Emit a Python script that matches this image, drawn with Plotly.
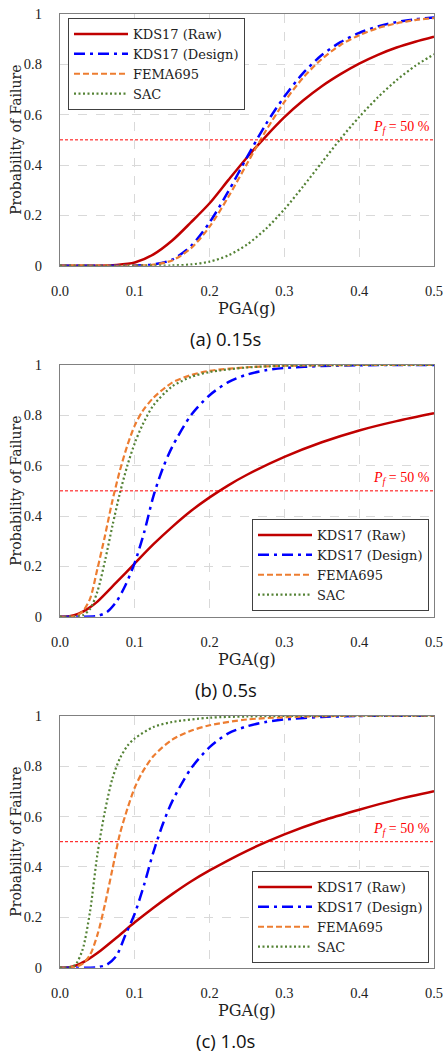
import plotly.graph_objects as go

W, H = 443, 1054

# ---------------- data ----------------
# Panel (a) 0.15s
a_raw_x = [0.0, 0.05, 0.075, 0.1, 0.125, 0.15, 0.175, 0.2, 0.225, 0.25, 0.275, 0.3, 0.325, 0.35, 0.375, 0.4, 0.425, 0.45, 0.475, 0.5]
a_raw_y = [0.0, 0.0001, 0.003, 0.013, 0.045, 0.10, 0.172, 0.248, 0.34, 0.43, 0.513, 0.59, 0.656, 0.713, 0.761, 0.803, 0.838, 0.867, 0.89, 0.91]
a_des_x = [0.0, 0.05, 0.1, 0.125, 0.15, 0.175, 0.2, 0.225, 0.25, 0.275, 0.3, 0.325, 0.35, 0.375, 0.4, 0.425, 0.45, 0.475, 0.5]
a_des_y = [0.0, 0.0, 0.0004, 0.005, 0.024, 0.078, 0.172, 0.295, 0.431, 0.561, 0.672, 0.765, 0.837, 0.888, 0.925, 0.951, 0.968, 0.979, 0.986]
a_fema_x = a_des_x
a_fema_y = [0.0, 0.0, 0.0003, 0.004, 0.021, 0.069, 0.155, 0.273, 0.405, 0.535, 0.651, 0.747, 0.821, 0.877, 0.916, 0.944, 0.963, 0.976, 0.984]
a_sac_x = [0.0, 0.1, 0.15, 0.175, 0.2, 0.225, 0.25, 0.275, 0.3, 0.325, 0.35, 0.375, 0.4, 0.425, 0.45, 0.475, 0.5]
a_sac_y = [0.0, 0.0, 0.001, 0.005, 0.016, 0.041, 0.084, 0.146, 0.224, 0.315, 0.41, 0.504, 0.591, 0.669, 0.737, 0.794, 0.84]

# Panel (b) 0.5s
b_raw_x = [0.0, 0.0125, 0.025, 0.0375, 0.05, 0.075, 0.1, 0.125, 0.15, 0.175, 0.2, 0.225, 0.25, 0.3, 0.35, 0.4, 0.45, 0.5]
b_raw_y = [0.0, 0.002, 0.012, 0.032, 0.06, 0.135, 0.212, 0.288, 0.357, 0.42, 0.474, 0.522, 0.564, 0.635, 0.693, 0.74, 0.777, 0.808]
b_des_x = [0.0, 0.025, 0.05, 0.0625, 0.075, 0.0875, 0.1, 0.1125, 0.125, 0.1375, 0.15, 0.175, 0.2, 0.225, 0.25, 0.275, 0.3, 0.35, 0.4, 0.45, 0.5]
b_des_y = [0.0, 0.0, 0.003, 0.018, 0.058, 0.125, 0.215, 0.335, 0.48, 0.59, 0.675, 0.80, 0.88, 0.932, 0.962, 0.979, 0.988, 0.996, 0.999, 1.0, 1.0]
b_fema_x = [0.0, 0.02, 0.03, 0.04, 0.05, 0.06, 0.07, 0.08, 0.09, 0.1, 0.11, 0.125, 0.15, 0.175, 0.2, 0.25, 0.3, 0.35, 0.4, 0.5]
b_fema_y = [0.0, 0.003, 0.02, 0.07, 0.19, 0.32, 0.46, 0.58, 0.68, 0.76, 0.815, 0.87, 0.93, 0.96, 0.977, 0.991, 0.997, 0.999, 1.0, 1.0]
b_sac_x = [0.0, 0.02, 0.03, 0.04, 0.05, 0.06, 0.07, 0.08, 0.09, 0.1, 0.11, 0.125, 0.15, 0.175, 0.2, 0.25, 0.3, 0.35, 0.4, 0.5]
b_sac_y = [0.0, 0.0, 0.005, 0.03, 0.10, 0.22, 0.36, 0.49, 0.60, 0.69, 0.76, 0.84, 0.915, 0.952, 0.972, 0.99, 0.997, 0.999, 1.0, 1.0]

# Panel (c) 1.0s
c_raw_x = [0.0, 0.0125, 0.025, 0.0375, 0.05, 0.075, 0.1, 0.125, 0.15, 0.175, 0.2, 0.25, 0.3, 0.35, 0.4, 0.45, 0.5]
c_raw_y = [0.0, 0.002, 0.013, 0.033, 0.058, 0.118, 0.18, 0.238, 0.292, 0.342, 0.386, 0.464, 0.529, 0.583, 0.627, 0.667, 0.70]
c_des_x = [0.0, 0.025, 0.05, 0.0625, 0.075, 0.0875, 0.1, 0.1125, 0.125, 0.1375, 0.15, 0.175, 0.2, 0.225, 0.25, 0.275, 0.3, 0.35, 0.4, 0.45, 0.5]
c_des_y = [0.0, 0.0, 0.002, 0.012, 0.045, 0.13, 0.215, 0.33, 0.46, 0.57, 0.66, 0.79, 0.875, 0.93, 0.958, 0.975, 0.985, 0.995, 0.999, 1.0, 1.0]
c_fema_x = [0.0, 0.02, 0.03, 0.04, 0.05, 0.06, 0.07, 0.08, 0.09, 0.1, 0.11, 0.125, 0.15, 0.175, 0.2, 0.25, 0.3, 0.35, 0.4, 0.5]
c_fema_y = [0.0, 0.003, 0.015, 0.05, 0.13, 0.25, 0.39, 0.53, 0.63, 0.715, 0.775, 0.84, 0.905, 0.94, 0.962, 0.985, 0.994, 0.998, 1.0, 1.0]
c_sac_x = [0.0, 0.01, 0.02, 0.03, 0.04, 0.05, 0.06, 0.07, 0.08, 0.09, 0.1, 0.125, 0.15, 0.2, 0.25, 0.3, 0.4, 0.5]
c_sac_y = [0.0, 0.001, 0.01, 0.07, 0.22, 0.45, 0.62, 0.75, 0.83, 0.88, 0.91, 0.955, 0.975, 0.992, 0.997, 0.999, 1.0, 1.0]

series_names = ["KDS17 (Raw)", "KDS17 (Design)", "FEMA695", "SAC"]
panel_titles = ["(a) 0.15s", "(b) 0.5s", "(c) 1.0s"]
x_ticks = [0.0, 0.1, 0.2, 0.3, 0.4, 0.5]
x_ticktext = ["0.0", "0.1", "0.2", "0.3", "0.4", "0.5"]
y_ticks = [0, 0.2, 0.4, 0.6, 0.8, 1.0]
y_ticktext = ["0", "0.2", "0.4", "0.6", "0.8", "1"]
pf_level = 0.5

panels = [
    [(a_raw_x, a_raw_y), (a_des_x, a_des_y), (a_fema_x, a_fema_y), (a_sac_x, a_sac_y)],
    [(b_raw_x, b_raw_y), (b_des_x, b_des_y), (b_fema_x, b_fema_y), (b_sac_x, b_sac_y)],
    [(c_raw_x, c_raw_y), (c_des_x, c_des_y), (c_fema_x, c_fema_y), (c_sac_x, c_sac_y)],
]

# ---------------- styling ----------------
styles = [
    dict(color="#C00000", width=2.5, dash="solid"),
    dict(color="#0000FF", width=2.5, dash="11px,5px,3px,5px"),
    dict(color="#ED7D31", width=2.2, dash="6px,3px"),
    dict(color="#548235", width=2.2, dash="2px,2.5px"),
]
SERIF = "DejaVu Serif, serif"
TSERIF = "Liberation Serif, Times New Roman, serif"
SANS = "Open Sans, sans-serif"

# pixel geometry
px_left, px_right = 60, 434
panel_px = [(14, 265.7), (365, 616.7), (715.7, 967.7)]

def fx(px):
    return px / W

def fy(py):
    return 1 - py / H

fig = go.Figure()
legend_cfg = [
    dict(x=fx(68), y=fy(18), xanchor="left", yanchor="top"),
    dict(x=fx(429), y=fy(611), xanchor="right", yanchor="bottom"),
    dict(x=fx(429), y=fy(963), xanchor="right", yanchor="bottom"),
]
annotations = []
for i, panel in enumerate(panels):
    suffix = "" if i == 0 else str(i + 1)
    lg = "legend" if i == 0 else f"legend{i + 1}"
    for j, (xs, ys) in enumerate(panel):
        fig.add_trace(go.Scatter(
            x=xs, y=ys, mode="lines", name=series_names[j],
            line=dict(shape="spline", smoothing=0.8, **styles[j]),
            xaxis="x" + suffix, yaxis="y" + suffix, legend=lg,
            hoverinfo="skip",
        ))
    top, bot = panel_px[i]
    fig.update_layout(**{
        "xaxis" + suffix: dict(
            domain=[fx(px_left), fx(px_right)], range=[0, 0.5], anchor="y" + suffix,
            tickvals=x_ticks, ticktext=x_ticktext, automargin=False,
            ticklabeloverflow="allow",
            showgrid=True, gridcolor="#D9D9D9", griddash="dash", gridwidth=1,
            showline=True, mirror=True, linecolor="#808080", linewidth=1.3,
            ticks="outside", ticklen=12, tickcolor="rgba(0,0,0,0)",
            tickfont=dict(family=TSERIF, size=14.5, color="#222"),
            zeroline=False, fixedrange=True,
        ),
        "yaxis" + suffix: dict(
            domain=[fy(bot), fy(top)], range=[0, 1], anchor="x" + suffix,
            tickvals=y_ticks, ticktext=y_ticktext, automargin=False,
            ticklabeloverflow="allow",
            showgrid=True, gridcolor="#D9D9D9", griddash="dash", gridwidth=1,
            showline=True, mirror=True, linecolor="#808080", linewidth=1.3,
            ticks="outside", ticklen=14, tickcolor="rgba(0,0,0,0)",
            tickfont=dict(family=TSERIF, size=14.5, color="#222"),
            zeroline=False, fixedrange=True,
        ),
        lg: dict(
            **legend_cfg[i],
            bgcolor="white", bordercolor="#404040", borderwidth=1,
            font=dict(family=SERIF, size=13, color="#222"),
            itemwidth=54, tracegroupgap=0,
        ),
    })
    # Pf = 50% reference line
    fig.add_shape(type="line", xref="x" + suffix, yref="y" + suffix,
                  x0=0, x1=0.5, y0=pf_level, y1=pf_level,
                  line=dict(color="#FF0000", width=1, dash="3px,2px"))
    annotations.append(dict(
        xref="x" + suffix, yref="y" + suffix, x=0.497, y=0.55,
        xanchor="right", yanchor="middle", showarrow=False,
        text="<i>P<sub>f</sub></i> = 50 %",
        font=dict(family=TSERIF, size=14, color="#FF0000"),
    ))
    # axis titles and panel caption
    annotations.append(dict(
        xref="paper", yref="paper", x=fx(247), y=fy(bot + 43),
        xanchor="center", yanchor="middle", showarrow=False,
        text="PGA(g)", font=dict(family=SERIF, size=16, color="#222"),
    ))
    annotations.append(dict(
        xref="paper", yref="paper", x=fx(16), y=fy((top + bot) / 2),
        xanchor="center", yanchor="middle", showarrow=False, textangle=-90,
        text="Probability of Failure", font=dict(family=SERIF, size=14, color="#222"),
    ))
    annotations.append(dict(
        xref="paper", yref="paper", x=fx(226), y=fy(bot + 73),
        xanchor="center", yanchor="middle", showarrow=False,
        text=panel_titles[i], font=dict(family=SANS, size=18.5, color="#111"),
    ))

fig.update_layout(
    width=W, height=H, margin=dict(l=0, r=0, t=0, b=0, autoexpand=False),
    paper_bgcolor="white", plot_bgcolor="white",
    annotations=annotations, showlegend=True,
)
fig.write_html(
    "out.html",
    config={"displayModeBar": False},
    post_script="document.body.style.margin='0px';document.body.style.overflow='hidden';",
)
